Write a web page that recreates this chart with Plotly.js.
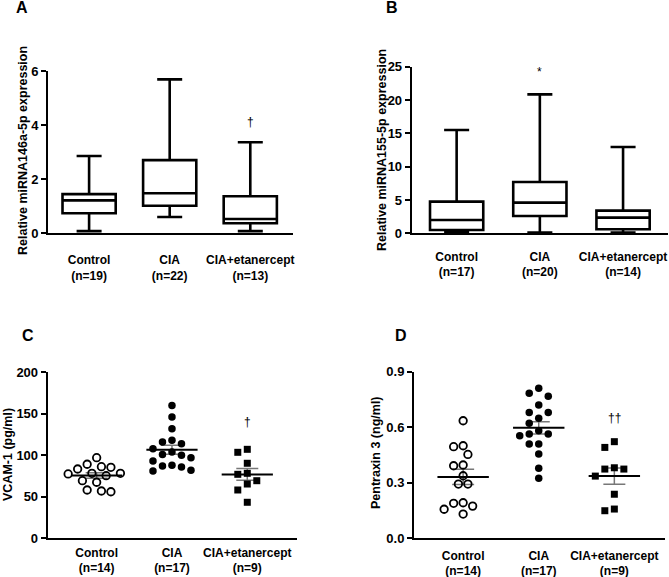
<!DOCTYPE html>
<html>
<head>
<meta charset="utf-8">
<script src="https://cdn.plot.ly/plotly-3.0.1.min.js"></script>
<style>html,body{margin:0;padding:0;background:#fff;}#chart{width:669px;height:577px;}</style>
</head>
<body>
<div id="chart"></div>
<script>
// ---------- DATA ----------
const groups = ['Control', 'CIA', 'CIA+etanercept'];
const nA = [19, 22, 13];
const nB = [17, 20, 14];
const nC = [14, 17, 9];
const nD = [14, 17, 9];

// Panel A: miRNA146a-5p box plot statistics
const A_min = [0.07, 0.59, 0.07];
const A_q1 = [0.73, 1.01, 0.36];
const A_med = [1.21, 1.47, 0.52];
const A_q3 = [1.44, 2.70, 1.36];
const A_max = [2.85, 5.69, 3.36];

// Panel B: miRNA155-5p box plot statistics
const B_min = [0.1, 0.1, 0.1];
const B_q1 = [0.5, 2.6, 0.6];
const B_med = [2.0, 4.6, 2.35];
const B_q3 = [4.75, 7.7, 3.4];
const B_max = [15.5, 20.85, 12.95];

// Panel C: VCAM-1 (pg/ml)
const C_control = [97.1, 89.2, 86.3, 85.5, 83.5, 78.3, 78.3, 77.5, 75.4, 69.4, 67.5, 58.2, 57.0, 56.1];
const C_cia = [160, 146, 132, 118, 116, 114, 108, 104, 101, 100, 97, 93, 88, 87, 86, 82, 81];
const C_etan = [107.2, 103.6, 90.4, 78.3, 77.1, 69.4, 65.4, 58.2, 43.4];

// Panel D: Pentraxin 3 (ng/ml)
const D_control = [0.635, 0.50, 0.495, 0.453, 0.396, 0.392, 0.338, 0.293, 0.293, 0.192, 0.189, 0.174, 0.157, 0.131];
const D_cia = [0.81, 0.783, 0.768, 0.72, 0.68, 0.68, 0.648, 0.621, 0.581, 0.563, 0.563, 0.554, 0.509, 0.509, 0.455, 0.378, 0.324];
const D_etan = [0.522, 0.491, 0.381, 0.374, 0.374, 0.336, 0.238, 0.158, 0.149];

// significance marks
const sigA = ['', '', '†'];
const sigB = ['', '*', ''];
const sigC = ['', '**', '†'];
const sigD = ['', '**', '††'];

// ---------- HELPERS ----------
const W = 669, H = 577;
const fx = p => p / W;
const fy = p => 1 - p / H;
const FONT = 'Arial, "Liberation Sans", Helvetica, sans-serif';

function tickText(n) { return groups.map((g, i) => g + '<br>(n=' + n[i] + ')'); }

function mean(a) { return a.reduce((s, v) => s + v, 0) / a.length; }
function sem(a) {
  const m = mean(a);
  const v = a.reduce((s, x) => s + (x - m) * (x - m), 0) / (a.length - 1);
  return Math.sqrt(v / a.length);
}

// deterministic beeswarm in pixel space
function swarm(vals, center, pxX, pxY, d) {
  const idx = vals.map((v, i) => i).sort((a, b) => vals[b] - vals[a]);
  const placed = [];
  const xs = new Array(vals.length);
  const step = d * 0.5;
  idx.forEach(i => {
    const y = vals[i] * pxY;
    let off = 0;
    for (let k = 0; k < 40; k++) {
      const c = (k === 0) ? 0 : (k % 2 ? -1 : 1) * Math.ceil(k / 2) * step;
      const ok = placed.every(p => Math.hypot(c - p.x, y - p.y) >= d);
      if (ok) { off = c; break; }
    }
    placed.push({ x: off, y: y });
    xs[i] = center + off / pxX;
  });
  return xs;
}

const baseAxis = {
  showline: true, linecolor: '#000', linewidth: 2, showgrid: false, zeroline: false,
  ticks: 'outside', ticklen: 5, tickwidth: 2, tickcolor: '#000', fixedrange: true
};
function xAxis(dom, range, n, anchor, standoff) {
  return Object.assign({}, baseAxis, {
    domain: dom, range: range, anchor: anchor, tickvals: [0, 1, 2], ticktext: tickText(n),
    ticks: '', ticklabelstandoff: standoff,
    tickfont: { family: FONT, size: 12, color: '#000', weight: 'bold' }
  });
}
function yAxis(dom, range, tickvals, anchor, fmt) {
  return Object.assign({}, baseAxis, {
    domain: dom, range: range, anchor: anchor, tickvals: tickvals, tickformat: fmt || '',
    tickfont: { family: FONT, size: 13, color: '#000', weight: 'bold' }
  });
}

const traces = [];

function boxTrace(q1, med, q3, lo, hi, xa, ya, w, ww) {
  return {
    type: 'box', x: [0, 1, 2], q1: q1, median: med, q3: q3, lowerfence: lo, upperfence: hi,
    xaxis: xa, yaxis: ya, fillcolor: '#fff', line: { color: '#000', width: 2.6 },
    width: w, whiskerwidth: ww, boxpoints: false, hoverinfo: 'skip'
  };
}
traces.push(boxTrace(A_q1, A_med, A_q3, A_min, A_max, 'x', 'y', 0.66, 0.47));
traces.push(boxTrace(B_q1, B_med, B_q3, B_min, B_max, 'x2', 'y2', 0.64, 0.47));

function dotPanel(sets, xa, ya, pxX, pxY) {
  const symbols = ['circle-open', 'circle', 'square'];
  const sizes = [7.5, 7.5, 7];
  sets.forEach((vals, g) => {
    const m = mean(vals), s = sem(vals);
    // SEM error bar
    traces.push({
      type: 'scatter', mode: 'markers', x: [g], y: [m], xaxis: xa, yaxis: ya,
      marker: { size: 1, color: 'rgba(0,0,0,0)' },
      error_y: { type: 'data', array: [s], visible: true, color: '#777', thickness: 1.5, width: 11 },
      hoverinfo: 'skip'
    });
    // points
    traces.push({
      type: 'scatter', mode: 'markers', x: swarm(vals, g, pxX, pxY, 9.5), y: vals, xaxis: xa, yaxis: ya,
      marker: {
        symbol: symbols[g], size: sizes[g], color: '#000',
        line: { color: '#000', width: g === 0 ? 1.8 : 0 }
      },
      cliponaxis: false, hoverinfo: 'y'
    });
    // mean line
    traces.push({
      type: 'scatter', mode: 'lines', x: [g - 0.34, g + 0.34], y: [m, m], xaxis: xa, yaxis: ya,
      line: { color: '#000', width: 2 }, hoverinfo: 'skip'
    });
  });
}
dotPanel([C_control, C_cia, C_etan], 'x3', 'y3', 75.3, 0.83);
dotPanel([D_control, D_cia, D_etan], 'x4', 'y4', 75.5, 185.2);

// ---------- ANNOTATIONS ----------
const ann = [];
function letter(t, x, y) {
  ann.push({ text: t, xref: 'paper', yref: 'paper', x: fx(x), y: fy(y), xanchor: 'center', yanchor: 'middle',
    showarrow: false, font: { family: FONT, size: 16, color: '#000', weight: 'bold' } });
}
letter('A', 22, 8); letter('B', 392, 8); letter('C', 28, 335); letter('D', 401, 335);

function ytitle(t, x, y) {
  ann.push({ text: t, xref: 'paper', yref: 'paper', x: fx(x), y: fy(y), xanchor: 'center', yanchor: 'middle',
    textangle: -90, showarrow: false, font: { family: FONT, size: 12.5, color: '#000', weight: 'bold' } });
}
ytitle('Relative miRNA146a-5p expression', 23, 151);
ytitle('Relative miRNA155-5p expression', 382, 150);
ytitle('VCAM-1 (pg/ml)', 8, 455);
ytitle('Pentraxin 3 (ng/ml)', 376, 453);

function sig(marks, ys, xa, ya) {
  marks.forEach((m, i) => {
    if (!m) return;
    ann.push({ text: m, xref: xa, yref: ya, x: i, y: ys[i], xanchor: 'center', yanchor: 'middle',
      showarrow: false, font: { family: FONT, size: 12, color: '#000' } });
  });
}
sig(sigA, [0, 0, 4.1], 'x', 'y');
sig(sigB, [0, 24.2, 0], 'x2', 'y2');
sig(sigC, [0, 204, 140], 'x3', 'y3');
sig(sigD, [0, 0.986, 0.648], 'x4', 'y4');

const layout = {
  width: W, height: H, margin: { l: 0, r: 0, t: 0, b: 0 },
  paper_bgcolor: '#fff', plot_bgcolor: '#fff', showlegend: false,
  font: { family: FONT, size: 12, color: '#000' },
  xaxis: xAxis([fx(48), fx(293)], [-0.51, 2.53], nA, 'y', 15),
  yaxis: yAxis([fy(233), fy(71)], [0, 6], [0, 2, 4, 6], 'x'),
  xaxis2: xAxis([fx(411.7), fx(668)], [-0.54, 2.54], nB, 'y2', 11),
  yaxis2: yAxis([fy(233.3), fy(66.7)], [0, 25], [0, 5, 10, 15, 20, 25], 'x2'),
  xaxis3: xAxis([fx(47.7), fx(297)], [-0.65, 2.66], nC, 'y3', 2),
  yaxis3: yAxis([fy(538.3), fy(372.3)], [0, 200], [0, 50, 100, 150, 200], 'x3'),
  xaxis4: xAxis([fx(414), fx(665)], [-0.65, 2.67], nD, 'y4', 5),
  yaxis4: yAxis([fy(538.3), fy(371.7)], [0, 0.9], [0, 0.3, 0.6, 0.9], 'x4', '.1f'),
  annotations: ann
};

Plotly.newPlot('chart', traces, layout, { displayModeBar: false, staticPlot: true });
</script>
</body>
</html>
